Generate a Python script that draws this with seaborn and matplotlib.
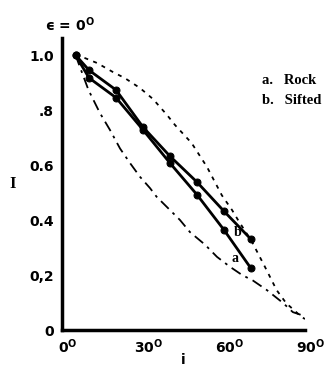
import matplotlib
matplotlib.use("Agg")
import matplotlib.pyplot as plt
import matplotlib.transforms as mtransforms
import seaborn as sns
import pandas as pd

# ---- data ----
i_a = [5, 10, 20, 30, 40, 50, 60, 70]
I_a = [1.0, 0.917, 0.845, 0.728, 0.607, 0.492, 0.364, 0.224]
i_b = [5, 10, 20, 30, 40, 50, 60, 70]
I_b = [1.0, 0.945, 0.873, 0.738, 0.632, 0.538, 0.432, 0.330]

i_dot = [5, 8.5, 13, 18.9, 23.3, 28.9, 33.7, 38.9, 41.9, 48, 53.7, 59.2, 63, 65.2, 70.4, 75.2, 79.5, 83, 88.8, 90]
I_dot = [1.0, 0.989, 0.971, 0.938, 0.916, 0.88, 0.84, 0.782, 0.745, 0.68, 0.593, 0.49, 0.436, 0.40, 0.32, 0.229, 0.145, 0.098, 0.047, 0.04]

i_dd = [5, 9.8, 14, 17.8, 21.5, 25.2, 28.9, 32.6, 35, 43.7, 47.4, 53, 57.4, 62.2, 66.7, 70.7, 75.9, 81.9, 85.5, 90]
I_dd = [1.0, 0.873, 0.79, 0.727, 0.66, 0.607, 0.557, 0.516, 0.485, 0.40, 0.356, 0.31, 0.266, 0.23, 0.20, 0.18, 0.145, 0.098, 0.065, 0.05]

x_ticks = [0, 30, 60, 90]
x_ticklabels = ["0$^{\\mathbf{O}}$", "30$^{\\mathbf{O}}$", "60$^{\\mathbf{O}}$", "90$^{\\mathbf{O}}$"]
y_ticks = [0, 0.2, 0.4, 0.6, 0.8, 1.0]
y_ticklabels = ["0", "0,2", "0.4", "0.6", ".8", "1.0"]

sns.set_style("white")
plt.rcParams["font.family"] = ["DejaVu Sans"]
plt.rcParams["font.weight"] = "bold"
plt.rcParams["mathtext.fontset"] = "dejavusans"
for k in ["text.color", "axes.labelcolor", "xtick.color", "ytick.color", "axes.edgecolor"]:
    plt.rcParams[k] = "black"

fig = plt.figure(figsize=(3.26, 3.68), dpi=100)
ax = fig.add_axes([62 / 326, 38 / 368, 243 / 326, 292 / 368])

df_a = pd.DataFrame({"i": i_a, "I": I_a})
df_b = pd.DataFrame({"i": i_b, "I": I_b})
df_dot = pd.DataFrame({"i": i_dot, "I": I_dot})
df_dd = pd.DataFrame({"i": i_dd, "I": I_dd})

sns.lineplot(data=df_dot, x="i", y="I", ax=ax, color="black", lw=1.3,
             linestyle=(0, (2.2, 3.0)), sort=False)
sns.lineplot(data=df_dd, x="i", y="I", ax=ax, color="black", lw=1.3,
             linestyle=(0, (6, 3, 1.5, 3)), sort=False)
sns.lineplot(data=df_a, x="i", y="I", ax=ax, color="black", lw=2.0,
             marker="o", markersize=5, markeredgecolor="black", sort=False)
sns.lineplot(data=df_b, x="i", y="I", ax=ax, color="black", lw=2.0,
             marker="o", markersize=5, markeredgecolor="black", sort=False)

ax.text(64, 0.26, "a", fontsize=10, fontweight="bold", ha="center", va="center",
        family="Liberation Serif")
ax.text(65, 0.355, "b", fontsize=10, fontweight="bold", ha="center", va="center",
        family="Liberation Serif")

ax.set_xlim(0, 90)
ax.set_ylim(0, 1.062)
ax.set_xticks(x_ticks)
ax.set_xticklabels(x_ticklabels, fontsize=10, fontweight="bold")
ax.set_yticks(y_ticks)
ax.set_yticklabels(y_ticklabels, fontsize=10, fontweight="bold")
ax.tick_params(axis="both", direction="in", length=8, width=1.5, color="black", pad=6)
ax.tick_params(axis="x", pad=5)
for lab in ax.get_xticklabels():
    lab.set_transform(lab.get_transform() +
                      mtransforms.ScaledTranslation(4 / 72, 0, fig.dpi_scale_trans))

sns.despine(ax=ax)
for s in ["left", "bottom"]:
    ax.spines[s].set_linewidth(2.5)
    ax.spines[s].set_color("black")

ax.set_xlabel("i", fontsize=10, fontweight="bold", labelpad=-2)
ax.set_ylabel("I", fontsize=12, fontweight="bold", rotation=0,
              family="Liberation Serif", labelpad=12, va="center")

fig.text(45 / 326, 1 - 25 / 368, "\u03f5 = 0$^{\\mathbf{O}}$", fontsize=10,
         fontweight="bold", ha="left", va="center")
fig.text(262 / 326, 1 - 80 / 368, "a.   Rock", fontsize=10.5, fontweight="bold",
         ha="left", va="center", family="Liberation Serif")
fig.text(262 / 326, 1 - 100 / 368, "b.   Sifted", fontsize=10.5, fontweight="bold",
         ha="left", va="center", family="Liberation Serif")

fig.savefig("out.png", dpi=100)
